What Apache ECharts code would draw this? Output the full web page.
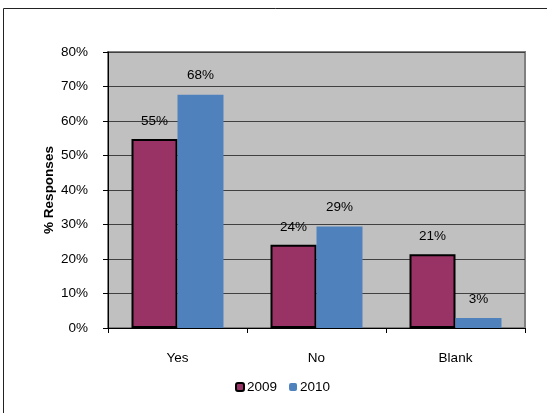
<!DOCTYPE html>
<html>
<head>
<meta charset="utf-8">
<script src="https://cdn.jsdelivr.net/npm/echarts@6/dist/echarts.min.js"></script>
<style>
html,body{margin:0;padding:0;background:#fff;}
#c{width:547px;height:413px;}
</style>
</head>
<body>
<div id="c"></div>
<script>
var categories = ['Yes', 'No', 'Blank'];
var seriesNames = ['2009', '2010'];
var values2009 = [54.8, 24.1, 21.4];
var values2010 = [67.6, 29.4, 2.9];
var yTicks = [0, 10, 20, 30, 40, 50, 60, 70, 80];

var chart = echarts.init(document.getElementById('c'), null, {renderer: 'canvas'});
var font = 'Liberation Sans, Arial, sans-serif';
var fs = 13.5;
var option = {
  animation: false,
  backgroundColor: '#ffffff',
  textStyle: {fontFamily: font},
  graphic: [{
    type: 'rect',
    shape: {x: 3.5, y: 8.5, width: 545, height: 420},
    style: {fill: 'none', stroke: '#222', lineWidth: 1},
    z: -10
  }],
  grid: {
    left: 108, right: 22, top: 52, bottom: 85,
    show: true, backgroundColor: '#C0C0C0', borderColor: '#808080', borderWidth: 2
  },
  legend: {
    bottom: 14,
    left: 230,
    itemWidth: 8, itemHeight: 8, itemGap: 12,
    textStyle: {fontFamily: font, fontSize: fs, color: '#000', padding: [0, 0, 0, -2]},
    data: seriesNames
  },
  xAxis: {
    type: 'category',
    data: categories,
    axisLine: {lineStyle: {color: '#000', width: 1}},
    axisTick: {show: true, length: 5, lineStyle: {color: '#000'}},
    axisLabel: {fontFamily: font, fontSize: fs, color: '#000', margin: 23}
  },
  yAxis: {
    type: 'value',
    min: yTicks[0], max: yTicks[yTicks.length - 1], interval: 10,
    name: '% Responses',
    nameLocation: 'middle',
    nameGap: 52,
    nameMoveOverlap: false,
    nameTextStyle: {fontFamily: font, fontSize: fs, fontWeight: 'bold', color: '#000'},
    axisLine: {show: true, lineStyle: {color: '#000', width: 1}},
    axisTick: {show: true, length: 5, lineStyle: {color: '#000'}},
    axisLabel: {fontFamily: font, fontSize: fs, color: '#000', margin: 20, formatter: '{value}%'},
    splitLine: {show: true, lineStyle: {color: '#404040', width: 1}}
  },
  series: [{
    name: seriesNames[0],
    type: 'bar',
    data: values2009,
    barWidth: 46,
    barGap: '0%',
    itemStyle: {color: '#993366', borderColor: '#000', borderWidth: 2},
    label: {show: true, position: 'top', distance: 11, fontFamily: font, fontSize: fs, color: '#000',
      formatter: function (p) { return Math.round(p.value) + '%'; }}
  }, {
    name: seriesNames[1],
    type: 'bar',
    data: values2010,
    barWidth: 46,
    barGap: '0%',
    itemStyle: {color: '#4F81BD'},
    label: {show: true, position: 'top', distance: 12, fontFamily: font, fontSize: fs, color: '#000',
      formatter: function (p) { return Math.round(p.value) + '%'; }}
  }]
};
chart.setOption(option);
</script>
</body>
</html>
